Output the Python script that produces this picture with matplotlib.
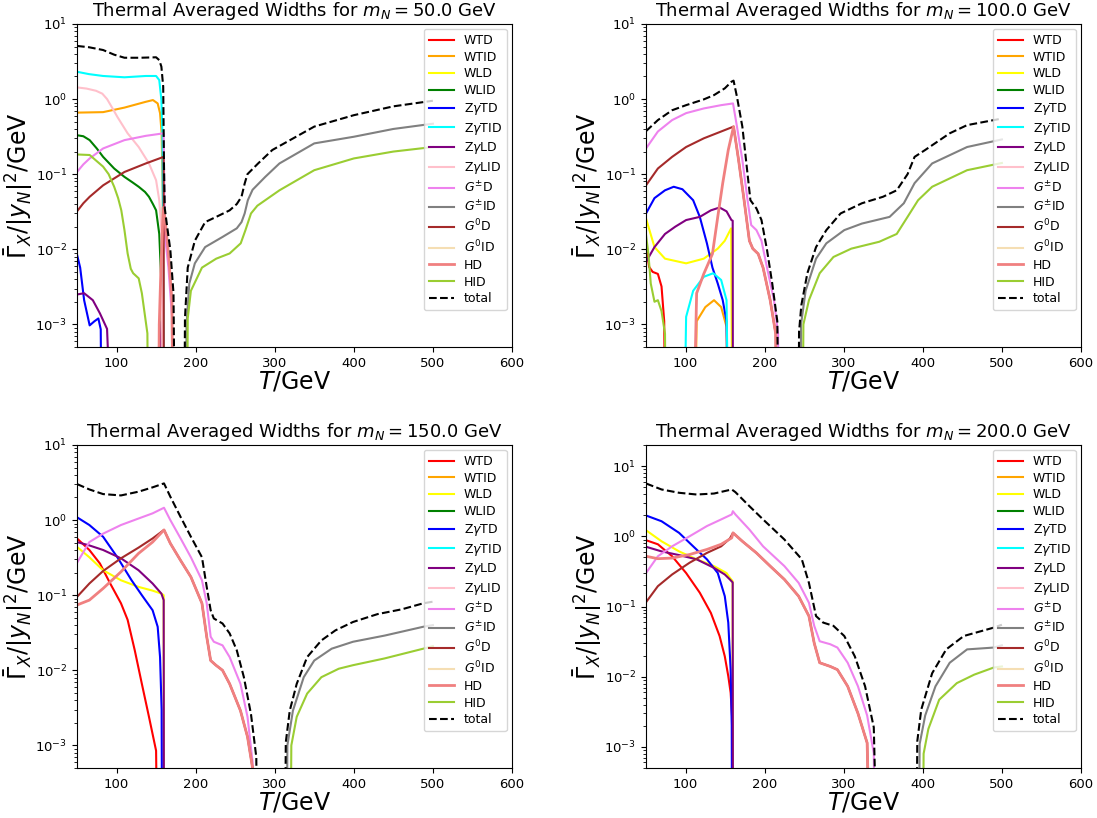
import matplotlib
matplotlib.use('Agg')
import matplotlib.pyplot as plt
import numpy as np

# Legend labels and colours, in plotting order
LABELS = ['WTD', 'WTID', 'WLD', 'WLID', r'Z$\gamma$TD', r'Z$\gamma$TID', r'Z$\gamma$LD', r'Z$\gamma$LID',
          r'$G^{\pm}$D', r'$G^{\pm}$ID', r'$G^0$D', r'$G^0$ID', 'HD', 'HID', 'total']
KEYS = ['WTD', 'WTID', 'WLD', 'WLID', 'ZTD', 'ZTID', 'ZLD', 'ZLID',
        'GpmD', 'GpmID', 'G0D', 'G0ID', 'HD', 'HID', 'total']
COLORS = ['red', 'orange', 'yellow', 'green', 'blue', 'cyan', 'purple', 'pink',
          'violet', 'grey', 'brown', 'wheat', 'lightcoral', 'yellowgreen', 'black']

MASSES = [50.0, 100.0, 150.0, 200.0]
LOW = 1e-6  # below the plotted range, curve vanishes

# (T [GeV], width / |y_N|^2 [GeV])
m50 = {
    'WTID': [(50, 0.66), (83, 0.67), (110, 0.77), (137, 0.92), (146, 0.97), (152, 0.875),
             (155, 0.65), (157, 0.35), (158.5, 0.05), (159.5, LOW)],
    'WLID': [(50, 0.33), (58, 0.32), (66, 0.284), (75, 0.22), (83, 0.17), (97, 0.119),
             (110, 0.092), (120, 0.078), (128, 0.068), (136, 0.058), (141, 0.05),
             (146, 0.04), (150, 0.033), (154, 0.016), (156.7, 0.0035), (158, LOW)],
    'ZTD': [(50, 0.0085), (54, 0.0057), (59, 0.0021), (66, 0.00097), (72, 0.0011),
            (77, 0.0012), (80, 0.00086), (82, LOW)],
    'ZTID': [(50, 2.31), (65, 2.15), (83, 2.03), (110, 1.95), (137, 2.03), (150, 2.03),
             (154, 1.79), (156.7, 0.97), (158, 0.35), (159.5, 0.001), (160, LOW)],
    'ZLD': [(50, 0.0025), (59, 0.0026), (70, 0.0021), (79, 0.0014), (88, 0.00087), (99, LOW),
            (145, LOW), (157, 0.0011), (158, LOW)],
    'ZLID': [(50, 1.43), (62, 1.38), (74, 1.29), (82, 1.18), (88, 1.0), (95, 0.75),
             (101, 0.58), (114, 0.35), (128, 0.23), (141, 0.139), (150, 0.083), (154, 0.045),
             (157, 0.016), (159, LOW)],
    'GpmD': [(50, 0.107), (58, 0.135), (66, 0.162), (83, 0.22), (110, 0.284), (137, 0.324),
             (159.5, 0.35), (161, 0.016), (165.6, 0.0057), (170, 0.0013), (172, LOW)],
    'GpmID': [(187, LOW), (188.5, 0.001), (192, 0.0035), (199, 0.0065), (212, 0.0107),
              (234, 0.0146), (252, 0.019), (258, 0.023), (262, 0.03), (266, 0.045),
              (272, 0.062), (288, 0.092), (306, 0.139), (350, 0.257), (400, 0.315),
              (450, 0.4), (500, 0.47)],
    'G0D': [(50, 0.032), (58, 0.041), (66, 0.05), (83, 0.071), (110, 0.107), (137, 0.139),
            (159.5, 0.17), (160, LOW)],
    'HD': [(152, LOW), (154, 0.001), (156, 0.005), (159, 0.036), (161, 0.027), (165.6, 0.0088),
           (170, 0.0021), (173, LOW)],
    'HID': [(50, 0.183), (66, 0.18), (83, 0.126), (90, 0.1), (97, 0.068), (102, 0.048),
            (106, 0.033), (110, 0.018), (114, 0.0088), (118, 0.0055), (121, 0.0048),
            (128, 0.0041), (132, 0.0026), (139, 0.00076), (141, LOW),
            (188.5, LOW), (190, 0.0012), (194, 0.0028), (208, 0.0057), (226, 0.0075),
            (243, 0.0088), (257, 0.012), (263, 0.018), (270, 0.030), (278, 0.038),
            (288, 0.045), (306, 0.061), (350, 0.113), (400, 0.162), (450, 0.2), (500, 0.23)],
    'total': [(50, 5.1), (65, 4.9), (83, 4.5), (97, 3.9), (110, 3.55), (130, 3.55),
              (150, 3.6), (154, 3.3), (156.7, 2.7), (159, 1.46), (160, 0.126), (161, 0.035),
              (163, 0.024), (168, 0.0098), (172, 0.0026), (175, LOW), (185, LOW),
              (186.5, 0.0012), (190, 0.0057), (199, 0.013), (212, 0.023), (226, 0.027),
              (243, 0.033), (252, 0.04), (258, 0.05), (262, 0.075), (265.5, 0.1),
              (279, 0.139), (297, 0.21), (350, 0.43), (400, 0.61), (450, 0.8), (500, 0.95)],
}

m100 = {
    'WTD': [(50, 0.0107), (54, 0.0058), (58.4, 0.005), (65, 0.0047), (69.6, 0.0032),
            (73, 0.0011), (75.3, LOW)],
    'WTID': [(109.6, LOW), (114, 0.0011), (125, 0.0017), (136, 0.0021), (145, 0.0017),
             (151.8, 0.00093), (155, LOW)],
    'WLD': [(50, 0.0257), (60.7, 0.0107), (74, 0.0075), (100.7, 0.0065), (123, 0.0075),
            (140.7, 0.0102), (149.6, 0.013), (157.6, 0.019), (160, LOW)],
    'ZTD': [(50, 0.030), (60.7, 0.048), (74, 0.061), (85, 0.068), (96, 0.063), (109.6, 0.045),
            (118, 0.027), (127, 0.012), (134, 0.0057), (140.7, 0.0035), (147, 0.0021),
            (151.8, 0.0011), (156, LOW)],
    'ZTID': [(96, LOW), (100.7, 0.00126), (109.6, 0.0028), (123, 0.0043), (135, 0.0048),
             (145, 0.0039), (151.8, 0.0021), (156, LOW)],
    'ZLD': [(50, 0.0068), (60.7, 0.0107), (74, 0.016), (87, 0.02), (100.7, 0.0245),
            (118, 0.027), (132, 0.033), (143, 0.036), (151.8, 0.032), (158, 0.0245),
            (159.6, 0.024), (160, LOW)],
    'GpmD': [(50, 0.22), (65, 0.37), (83, 0.525), (100.7, 0.65), (123, 0.75), (145, 0.83),
             (160, 0.875), (165, 0.43), (171.8, 0.155), (178.4, 0.045), (183, 0.021),
             (189.6, 0.018), (196, 0.013), (203, 0.0057), (211.8, 0.0021), (217, 0.00075),
             (218, LOW)],
    'GpmID': [(244, LOW), (246, 0.001), (251.8, 0.0028), (265, 0.0075), (278, 0.012),
              (300.7, 0.018), (323, 0.022), (358, 0.027), (376, 0.041), (389.6, 0.076),
              (411.8, 0.139), (456, 0.23), (500, 0.29)],
    'G0D': [(50, 0.071), (65, 0.119), (83, 0.17), (100.7, 0.23), (123, 0.3), (145, 0.37),
            (160.7, 0.43), (167, 0.155), (174, 0.045), (180.7, 0.013), (185, 0.0102),
            (191.8, 0.0087), (198, 0.0057), (207, 0.0021), (214, 0.00075), (216, LOW)],
    'HD': [(107, LOW), (114, 0.0026), (123, 0.0047), (134, 0.0087), (140.7, 0.027),
           (147, 0.076), (154, 0.21), (160.7, 0.43), (167, 0.155), (174, 0.045),
           (180.7, 0.013), (185, 0.0102), (191.8, 0.0087), (198, 0.0057), (207, 0.0021),
           (214, 0.00075), (216, LOW)],
    'HID': [(50, 0.0155), (53, 0.0087), (56, 0.0035), (60.7, 0.002), (65, 0.0021),
            (69.6, 0.0015), (74, 0.00075), (76, LOW), (247, LOW), (249, 0.001),
            (256, 0.0021), (269.6, 0.0048), (287, 0.0079), (309.6, 0.0102), (345, 0.0126),
            (367, 0.016), (380.7, 0.027), (394, 0.045), (411.8, 0.068), (456, 0.113),
            (500, 0.141)],
    'total': [(50, 0.374), (65, 0.525), (83, 0.71), (100.7, 0.83), (123, 0.99), (136, 1.13),
              (149.6, 1.39), (158, 1.70), (160.7, 1.76), (165, 1.07), (171.8, 0.43),
              (176, 0.17), (182, 0.045), (189.6, 0.035), (196, 0.0245), (203, 0.0098),
              (209.6, 0.0035), (216, 0.0011), (219.8, LOW), (242, LOW), (243.5, 0.0008),
              (246.4, 0.0018), (254, 0.0048), (265, 0.0107), (278, 0.018), (296, 0.030),
              (323, 0.041), (349.6, 0.05), (367, 0.061), (380.7, 0.1), (389.6, 0.17),
              (403, 0.21), (434, 0.35), (456, 0.45), (500, 0.55)],
}

m150 = {
    'WTD': [(50, 0.57), (65.6, 0.4), (79, 0.264), (92, 0.143), (105.6, 0.078), (114, 0.047),
            (123, 0.0185), (132, 0.0066), (141, 0.0024), (150, 0.00085), (153, LOW)],
    'WLD': [(50, 0.44), (65.6, 0.32), (83, 0.215), (105.6, 0.158), (127.8, 0.129),
            (145.6, 0.115), (156.7, 0.105), (159.6, 0.1), (160, LOW)],
    'ZTD': [(50, 1.09), (65.6, 0.86), (83, 0.6), (101, 0.32), (119, 0.158), (132, 0.1),
            (145.6, 0.063), (152, 0.038), (155, 0.015), (157, 0.003), (158, LOW)],
    'ZLD': [(50, 0.51), (65.6, 0.46), (83, 0.4), (105.6, 0.31), (127.8, 0.215),
            (145.6, 0.143), (156.7, 0.105), (159.6, 0.086), (160, LOW)],
    'GpmD': [(50, 0.27), (65.6, 0.51), (83, 0.66), (105.6, 0.86), (127.8, 1.05),
             (145.6, 1.23), (160, 1.46), (168, 1.0), (181, 0.57), (194, 0.32), (208, 0.158),
             (214, 0.078), (219, 0.028), (223, 0.024), (234, 0.0215), (243, 0.015),
             (256.7, 0.0066), (265.6, 0.0024), (272, 0.0006), (275, LOW)],
    'GpmID': [(314, LOW), (316, 0.001), (323, 0.0029), (336.7, 0.0081), (350, 0.0135),
              (372, 0.0194), (399, 0.024), (439, 0.029), (487.8, 0.038), (500, 0.04)],
    'G0D': [(50, 0.095), (65.6, 0.143), (83, 0.21), (105.6, 0.31), (127.8, 0.43),
            (145.6, 0.57), (160, 0.74), (168, 0.49), (181, 0.29), (194, 0.175), (208, 0.078),
            (214, 0.028), (219, 0.0135), (225.6, 0.0117), (234, 0.01), (243, 0.0066),
            (256.7, 0.0029), (265.6, 0.0013), (272, 0.0005), (274, LOW)],
    'HD': [(50, 0.074), (65.6, 0.086), (83, 0.123), (105.6, 0.205), (127.8, 0.36),
           (145.6, 0.51), (160, 0.74), (168, 0.49), (181, 0.29), (194, 0.175), (208, 0.078),
           (214, 0.028), (219, 0.0135), (225.6, 0.0117), (234, 0.01), (243, 0.0066),
           (256.7, 0.0029), (265.6, 0.0013), (272, 0.0005), (274, LOW)],
    'HID': [(319, LOW), (321, 0.001), (327.8, 0.0024), (341, 0.0049), (359, 0.0081),
            (381, 0.0105), (399, 0.0117), (439, 0.0144), (487.8, 0.0194), (500, 0.021)],
    'total': [(50, 3.02), (65.6, 2.56), (83, 2.22), (105.6, 2.13), (127.8, 2.39),
              (145.6, 2.73), (160, 3.08), (168, 2.05), (181, 1.1), (194, 0.6), (208, 0.32),
              (214, 0.129), (219, 0.063), (223, 0.049), (234, 0.042), (243, 0.031),
              (252, 0.0185), (261, 0.0081), (270, 0.0026), (276.7, 0.0007), (279, LOW),
              (312, LOW), (314, 0.0011), (319, 0.0029), (327.8, 0.0066), (341, 0.015),
              (359, 0.025), (376.7, 0.034), (399, 0.044), (430, 0.056), (461, 0.065),
              (487.8, 0.078), (500, 0.082)],
}

m200 = {
    'WTD': [(50, 0.88), (65, 0.77), (83, 0.52), (100.7, 0.30), (118, 0.157), (132, 0.081),
            (143, 0.038), (149.6, 0.0195), (154, 0.0102), (157, 0.0059), (159.5, 0.002),
            (160, LOW)],
    'WLD': [(50, 1.22), (69.6, 0.85), (91.8, 0.61), (114, 0.47), (136, 0.376),
            (151.8, 0.30), (156, 0.257), (159.5, 0.23), (160, LOW)],
    'ZTD': [(50, 1.98), (69.6, 1.64), (91.8, 1.12), (109.6, 0.72), (127, 0.47),
            (140.7, 0.30), (149.6, 0.14), (154, 0.059), (157, 0.0126), (158.4, 0.002),
            (159, LOW)],
    'ZLD': [(50, 0.71), (69.6, 0.61), (91.8, 0.54), (114, 0.47), (136, 0.355),
            (149.6, 0.286), (156, 0.243), (159.6, 0.22), (160, LOW)],
    'GpmD': [(50, 0.30), (65, 0.52), (83, 0.72), (105, 1.0), (127, 1.40), (145, 1.74),
             (158.4, 2.05), (159.8, 2.28), (163, 2.05), (180.7, 1.25), (198, 0.72),
             (225, 0.376), (243, 0.217), (256, 0.113), (262.7, 0.053), (269.6, 0.032),
             (283, 0.029), (292, 0.026), (305, 0.0158), (318, 0.0073), (329.6, 0.0028),
             (338, 0.00081), (341, LOW)],
    'GpmID': [(394, LOW), (396, 0.0011), (403, 0.0028), (416, 0.0073), (434, 0.0158),
              (456, 0.0245), (489.6, 0.026), (500, 0.028)],
    'G0D': [(50, 0.115), (65, 0.195), (83, 0.286), (105, 0.42), (127, 0.58), (145, 0.72),
            (156, 0.93), (160, 1.12), (171.8, 0.85), (189.6, 0.58), (207, 0.376),
            (225, 0.243), (243, 0.14), (256, 0.073), (262.7, 0.030), (269.6, 0.0158),
            (283, 0.014), (292, 0.0126), (305, 0.0073), (318, 0.003), (329.6, 0.00114),
            (336, LOW)],
    'HD': [(50, 0.52), (65, 0.48), (83, 0.49), (105, 0.55), (127, 0.65), (145, 0.77),
           (158.4, 0.95), (160, 1.12), (171.8, 0.85), (189.6, 0.58), (207, 0.376),
           (225, 0.243), (243, 0.14), (256, 0.073), (262.7, 0.030), (269.6, 0.0158),
           (283, 0.014), (292, 0.0126), (305, 0.0073), (318, 0.003), (329.6, 0.00114),
           (336, LOW)],
    'HID': [(399, LOW), (401, 0.0008), (407, 0.0018), (420.7, 0.0047), (443, 0.0081),
            (465, 0.0107), (489.6, 0.0135), (500, 0.014)],
    'total': [(50, 5.66), (69.6, 4.65), (91.8, 4.17), (114, 3.94), (136, 4.07),
              (158.4, 4.65), (163, 4.26), (180.7, 2.69), (198, 1.74), (225, 0.9), (247, 0.47),
              (256, 0.217), (265, 0.073), (274, 0.059), (287, 0.053), (300.7, 0.038),
              (314, 0.0195), (327, 0.0073), (338, 0.0019), (345, LOW), (391, LOW),
              (393, 0.0012), (398, 0.0034), (411.8, 0.0112), (429.6, 0.0245), (451.8, 0.038),
              (489.6, 0.05), (500, 0.055)],
}

PANELS = [m50, m100, m150, m200]
YTOP = [10, 10, 10, 20]

fig = plt.figure(figsize=(10.97, 8.18), dpi=100)
rects = [[0.0702, 0.5758, 0.3965, 0.3949], [0.5889, 0.5758, 0.3965, 0.3949],
         [0.0702, 0.0611, 0.3965, 0.3949], [0.5889, 0.0611, 0.3965, 0.3949]]

for mass, data, rect, ytop in zip(MASSES, PANELS, rects, YTOP):
    ax = fig.add_axes(rect)
    for key, label, color in zip(KEYS, LABELS, COLORS):
        pts = data.get(key, [])
        T = [p[0] for p in pts]
        v = [p[1] for p in pts]
        if key == 'total':
            ax.plot(T, v, '--', color=color, lw=1.5, label=label)
        else:
            ax.plot(T, v, color=color, lw=2 if key == 'HD' else 1.5, label=label)
    ax.set_yscale('log')
    ax.set_xlim(50, 600)
    ax.set_ylim(5e-4, ytop)
    ax.set_xticks([100, 200, 300, 400, 500, 600])
    ax.tick_params(labelsize=9.5)
    ax.set_xlabel(r'$T/$GeV', fontsize=17, labelpad=0)
    ax.set_ylabel(r'$\bar{\Gamma}_X/|y_N|^2/$GeV', fontsize=17, labelpad=0)
    ax.set_title(r'Thermal Averaged Widths for $m_N = %.1f$ GeV' % mass, fontsize=13)
    ax.legend(loc='upper right', fontsize=9, labelspacing=0.3, borderaxespad=0.4)

fig.savefig('out.png', dpi=100)
